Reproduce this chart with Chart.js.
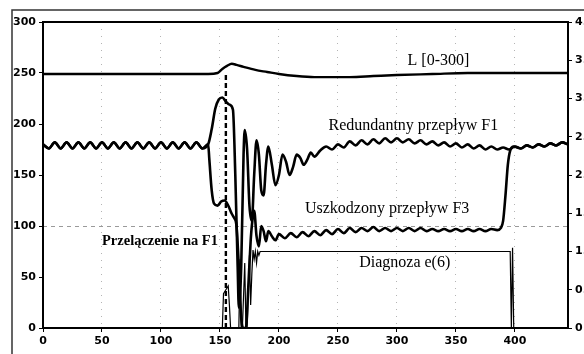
<!DOCTYPE html>
<html>
<head>
<meta charset="utf-8">
<script src="https://cdn.jsdelivr.net/npm/chart.js@4.4.1/dist/chart.umd.min.js"></script>
<style>
  html, body { margin: 0; padding: 0; background: #fff; }
  #wrap { width: 584px; height: 354px; position: relative; }
</style>
</head>
<body>
<div id="wrap"><canvas id="grafico"></canvas></div>
<script>
// poziom L [0-300]
const lX = [0, 60, 120, 140, 148, 152, 156, 160, 164, 170, 180, 190, 200, 215, 230, 245, 260, 280, 300, 330, 360, 400, 445]
const lY = [249, 249, 249, 249, 250, 254, 257, 259, 258, 256, 253, 251, 249, 247, 246, 246, 246, 247, 248, 249, 250, 250, 250]

// redundantny przeplyw F1
const f1X = [0, 5, 10, 15, 20, 25, 30, 35, 40, 45, 50, 55, 60, 65, 70, 75, 80, 85, 90, 95, 100, 105, 110, 115, 120, 125, 130, 135, 140,
  143, 146, 149, 152, 155, 158, 161, 163, 165, 166, 168, 170, 171, 173, 175, 177, 179, 181, 183, 185, 187, 189, 191, 194, 197, 200,
  203, 206, 209, 212, 215, 218, 221, 224, 227, 230, 235, 240, 245, 250, 255, 260, 265, 270, 275, 280, 285, 290, 295, 300, 305, 310,
  315, 320, 325, 330, 335, 340, 345, 350, 355, 360, 365, 370, 375, 380, 385, 390, 395, 400, 405, 410, 415, 420, 425, 430, 435, 440, 445]
const f1Y = [180, 176, 182, 176, 182, 176, 182, 176, 182, 176, 182, 176, 182, 176, 182, 176, 182, 176, 182, 176, 182, 176, 182, 176, 182, 176, 182, 176, 180,
  195, 215, 224, 226, 222, 219, 214, 150, 60, 20, 60, 170, 194, 175, 120, 105, 150, 184, 170, 135, 130, 160, 178, 160, 140, 150,
  170, 163, 150, 158, 170, 167, 160, 165, 172, 168, 174, 178, 175, 180, 177, 183, 179, 184, 180, 185, 181, 186, 182, 186, 182, 185,
  181, 184, 180, 183, 179, 182, 178, 181, 177, 180, 176, 179, 175, 178, 175, 177, 175, 178, 176, 179, 177, 180, 178, 181, 179, 182, 180]

// uszkodzony przeplyw F3
const f3X = [0, 5, 10, 15, 20, 25, 30, 35, 40, 45, 50, 55, 60, 65, 70, 75, 80, 85, 90, 95, 100, 105, 110, 115, 120, 125, 130, 135, 140,
  141, 143, 145, 148, 151, 154, 157, 160, 162, 164, 166, 168, 170, 172, 174, 176, 177, 179, 181, 183, 185, 187, 189, 191, 194, 197, 200,
  205, 210, 215, 220, 225, 230, 235, 240, 245, 250, 255, 260, 265, 270, 275, 280, 285, 290, 295, 300, 305, 310, 315, 320, 325, 330,
  335, 340, 345, 350, 355, 360, 365, 370, 375, 380, 385, 388, 390, 392, 394, 396, 399, 405, 410, 415, 420, 425, 430, 435, 440, 445]
const f3Y = [180, 176, 182, 176, 182, 176, 182, 176, 182, 176, 182, 176, 182, 176, 182, 176, 182, 176, 182, 176, 182, 176, 182, 176, 182, 176, 182, 176, 180,
  165, 135, 122, 120, 124, 125, 120, 112, 108, 100, 60, 10, 0, 0, 40, 85, 100, 115, 90, 80, 100, 95, 85, 95, 90, 86, 92,
  88, 93, 89, 94, 90, 95, 91, 96, 92, 97, 93, 98, 94, 98, 95, 99, 95, 98, 95, 98, 95, 98, 95, 98, 95, 97,
  95, 97, 95, 97, 95, 97, 95, 97, 95, 97, 96, 98, 105, 130, 160, 174, 178, 176, 179, 177, 180, 178, 181, 179, 182, 180]

// diagnoza e(6), prawa os 0-4
const dX = [0, 150, 152, 153, 155, 157, 158, 159, 166, 167, 168, 169, 171, 172, 173, 175, 176, 177, 178, 179, 180, 181, 182, 183, 184, 185, 187, 189, 396, 397, 398, 399, 400, 445]
const dY = [0, 0, 0, 0.45, 0.5, 0.55, 0.3, 0, 0, 0.9, 0, 0, 0.85, 0, 0, 0.95, 0.3, 0.7, 1.02, 0.9, 1.0, 0.85, 1.0, 0.95, 1.0, 1, 1, 1, 1, 0, 1.05, 0, 0, 0]

// linia przelaczenia
const swX = [155, 155]
const swY = [0, 251]

// opisy (pozycja lewego brzegu i srodka tekstu w jednostkach osi)
const opisTekst = ['L [0-300]', 'Redundantny przepływ F1', 'Uszkodzony przepływ F3', 'Przelączenie na F1', 'Diagnoza e(6)']
const opisX = [309, 242, 222, 50, 268]
const opisY = [262, 198, 117, 85, 64]
const opisBold = [false, false, false, true, false]

const xMin = 0
const xMax = 445
const xStep = 50
const yMax = 300
const yStep = 50
const y1Max = 4
const y1Step = 0.5

function punkty(xs, ys) {
  return xs.map((x, i) => ({ x: x, y: ys[i] }))
}

const tickFont = { family: 'DejaVu Sans', weight: 'bold', size: 11 }

const ramkaPlugin = {
  id: 'ramka',
  afterDraw(chart) {
    const ctx = chart.ctx
    const a = chart.chartArea
    ctx.save()
    ctx.strokeStyle = '#000'
    ctx.lineWidth = 2
    ctx.strokeRect(a.left, a.top, a.right - a.left, a.bottom - a.top)
    ctx.strokeStyle = '#333'
    ctx.lineWidth = 1.5
    ctx.strokeRect(12, 10, 700, 700)

    const sx = chart.scales.x
    const sy = chart.scales.y
    ctx.fillStyle = '#000'
    ctx.textAlign = 'left'
    ctx.textBaseline = 'middle'
    for (let i = 0; i < opisTekst.length; i++) {
      ctx.font = (opisBold[i] ? 'bold 14.5px' : '16px') + ' "Liberation Serif", serif'
      ctx.fillText(opisTekst[i], sx.getPixelForValue(opisX[i]), sy.getPixelForValue(opisY[i]))
    }
    ctx.restore()
  }
}

const ctx = document.getElementById('grafico').getContext('2d')

new Chart(ctx, {
  type: 'line',
  data: {
    datasets: [
      { data: punkty(dX, dY), yAxisID: 'y1', borderColor: '#000', borderWidth: 1.2, pointRadius: 0, tension: 0 },
      { data: punkty(f3X, f3Y), yAxisID: 'y', borderColor: '#000', borderWidth: 2.6, pointRadius: 0, cubicInterpolationMode: 'monotone' },
      { data: punkty(f1X, f1Y), yAxisID: 'y', borderColor: '#000', borderWidth: 2.6, pointRadius: 0, cubicInterpolationMode: 'monotone' },
      { data: punkty(lX, lY), yAxisID: 'y', borderColor: '#000', borderWidth: 2.4, pointRadius: 0, cubicInterpolationMode: 'monotone' },
      { data: punkty(swX, swY), yAxisID: 'y', borderColor: '#000', borderWidth: 2.4, borderDash: [5, 3], pointRadius: 0 }
    ]
  },
  options: {
    responsive: true,
    maintainAspectRatio: false,
    animation: false,
    layout: { padding: { top: 22, left: 0, right: 0, bottom: 0 } },
    plugins: { legend: { display: false }, tooltip: { enabled: false } },
    scales: {
      x: {
        type: 'linear',
        min: xMin,
        max: xMax,
        afterFit: (s) => { s.height = 26 },
        ticks: { stepSize: xStep, includeBounds: false, autoSkip: false, maxRotation: 0, color: '#000', font: tickFont, padding: 3 },
        grid: {
          color: (c) => (c.tick.value > xMin && c.tick.value < 450 ? '#b4b4b4' : 'transparent'),
          lineWidth: 1,
          tickLength: 4,
          tickColor: '#000'
        },
        border: { display: false, dash: [1, 6] }
      },
      y: {
        position: 'left',
        min: 0,
        max: yMax,
        afterFit: (s) => { s.width = 43 },
        ticks: { stepSize: yStep, color: '#000', font: tickFont, padding: 3 },
        grid: {
          color: (c) => (c.tick.value === 100 ? '#9a9a9a' : 'transparent'),
          lineWidth: 1,
          tickLength: 4,
          tickColor: '#000'
        },
        border: { display: false, dash: [4, 4] }
      },
      y1: {
        position: 'right',
        min: 0,
        max: y1Max,
        afterFit: (s) => { s.width = 16 },
        ticks: { stepSize: y1Step, color: '#000', font: tickFont, padding: 3 },
        grid: { drawOnChartArea: false, tickLength: 4, tickColor: '#000' },
        border: { display: false }
      }
    }
  },
  plugins: [ramkaPlugin]
})
</script>
</body>
</html>
